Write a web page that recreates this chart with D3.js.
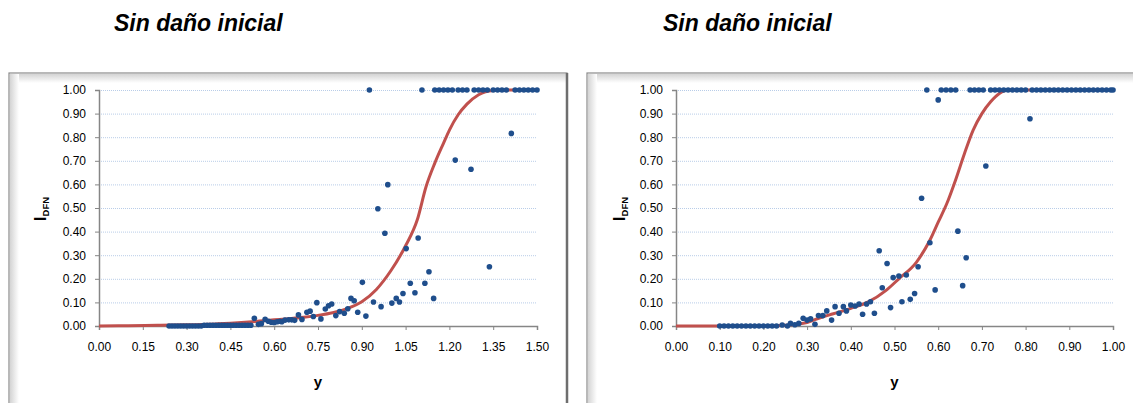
<!DOCTYPE html>
<html>
<head>
<meta charset="utf-8">
<script src="https://cdn.jsdelivr.net/npm/d3@7"></script>
<style>
  body { margin: 0; background: #fff; }
  svg { display: block; font-family: "Liberation Sans", Arial, sans-serif; }
  .grid line { stroke: #b9cde8; stroke-dasharray: 1,1; }
  .axis path, .axis line { stroke: #868686; }
  .axis text { fill: #000; font-size: 12px; }
</style>
</head>
<body>
<svg id="chart" width="1133" height="403"></svg>
<script>

var titleText = "Sin daño inicial";

// left panel: measured points
var leftX = [0.24,0.25,0.26,0.27,0.28,0.29,0.30,0.31,0.32,0.33,0.34,0.35,0.36,0.37,0.38,0.39,0.40,0.41,0.42,0.43,0.44,0.45,0.46,0.47,0.48,0.49,0.50,0.51,0.52,
  0.532,0.546,0.556,0.569,0.58,0.59,0.60,0.61,0.62,0.626,0.637,0.65,0.66,0.67,0.683,0.695,0.712,0.723,0.734,0.746,0.760,0.775,0.786,0.797,0.811,0.824,0.840,
  0.852,0.863,0.874,0.886,0.902,0.914,0.926,0.940,0.955,0.966,0.979,0.989,1.003,1.018,1.029,1.041,1.052,1.066,1.082,1.093,1.106,1.116,1.130,1.146,
  1.15,1.165,1.18,1.195,1.21,1.22,1.23,1.245,1.26,1.274,1.285,1.30,1.315,1.33,1.337,1.35,1.365,1.38,1.395,1.412,1.425,1.44,1.455,1.47,1.485,1.50];
var leftY = [0,0,0,0,0,0,0,0,0,0,0,0,0.003,0.003,0.003,0.003,0.003,0.003,0.003,0.003,0.003,0.003,0.003,0.003,0.003,0.003,0.003,0.003,0.003,
  0.033,0.007,0.010,0.028,0.020,0.016,0.015,0.018,0.020,0.018,0.025,0.026,0.026,0.024,0.047,0.028,0.058,0.063,0.040,0.099,0.030,0.072,0.086,0.093,0.044,0.061,0.054,
  0.073,0.117,0.107,0.058,0.185,0.042,1.0,0.102,0.497,0.082,0.393,0.599,0.097,0.117,0.102,0.138,0.328,0.181,0.141,0.373,1.0,0.181,0.230,0.117,
  1,1,1,1,1,0.703,1,1,1,0.664,1,1,1,1,0.251,1,1,1,1,0.816,1,1,1,1,1,1];

// left panel: fitted curve
var leftCurveX = [0,0.1,0.2,0.3,0.4,0.45,0.5,0.55,0.6,0.65,0.7,0.75,0.8,0.85,0.9,0.95,1.0,1.05,1.09,1.12,1.15,1.18,1.2,1.23,1.26,1.3,1.35,1.4,1.5];
var leftCurveY = [0,0.001,0.003,0.005,0.009,0.012,0.016,0.021,0.026,0.031,0.037,0.045,0.056,0.074,0.103,0.155,0.235,0.34,0.45,0.59,0.69,0.775,0.83,0.895,0.94,0.98,0.998,1.0,1.0];

// right panel: measured points
var rightX = [0.10,0.11,0.12,0.13,0.14,0.15,0.16,0.17,0.18,0.19,0.20,0.21,0.22,0.23,0.243,0.255,0.262,0.272,0.281,0.291,0.300,0.308,0.318,0.326,0.336,
  0.345,0.356,0.364,0.373,0.383,0.39,0.40,0.41,0.419,0.427,0.436,0.445,0.454,0.465,0.472,0.483,0.491,0.497,0.510,0.517,0.527,0.536,0.546,0.554,
  0.562,0.574,0.581,0.593,0.600,0.607,0.618,0.629,0.64,0.645,0.656,0.664,0.673,0.683,0.693,0.703,0.709,0.72,0.73,0.74,0.75,0.76,0.77,0.78,0.79,0.80,
  0.81,0.815,0.825,0.835,0.845,0.855,0.865,0.875,0.885,0.895,0.905,0.915,0.925,0.935,0.945,0.955,0.965,0.975,0.985,0.995,1.0];
var rightY = [0,0,0,0,0,0,0,0,0,0,0,0,0,0,0.004,0,0.011,0.005,0.011,0.033,0.025,0.030,0.007,0.044,0.044,
  0.064,0.025,0.082,0.054,0.082,0.064,0.089,0.085,0.093,0.050,0.093,0.103,0.054,0.319,0.162,0.265,0.078,0.205,0.212,0.103,0.216,0.113,0.138,0.251,
  0.541,1.0,0.353,0.153,0.958,1,1,1,1,0.402,0.171,0.289,1,1,1,1,0.678,1,1,1,1,1,1,1,1,1,
  0.878,1,1,1,1,1,1,1,1,1,1,1,1,1,1,1,1,1,1,1,1];

// right panel: fitted curve
var rightCurveX = [0,0.1,0.2,0.25,0.28,0.3,0.33,0.36,0.4,0.44,0.48,0.51,0.55,0.58,0.6,0.62,0.64,0.66,0.68,0.7,0.72,0.74,0.76,1.0];
var rightCurveY = [0,0,0.001,0.003,0.008,0.015,0.035,0.052,0.075,0.102,0.15,0.2,0.27,0.36,0.44,0.52,0.62,0.73,0.83,0.9,0.95,0.985,1.0,1.0];

var yTicks = [0,0.1,0.2,0.3,0.4,0.5,0.6,0.7,0.8,0.9,1.0];
var leftXTicks = [0,0.15,0.30,0.45,0.60,0.75,0.90,1.05,1.20,1.35,1.50];
var rightXTicks = [0,0.1,0.2,0.3,0.4,0.5,0.6,0.7,0.8,0.9,1.0];

var svg = d3.select("#chart");
var defs = svg.append("defs");

var gradTop = defs.append("linearGradient").attr("id", "shTop")
    .attr("x1", 0).attr("y1", 0).attr("x2", 0).attr("y2", 1);
gradTop.append("stop").attr("offset", 0).attr("stop-color", "#d4d4d4");
gradTop.append("stop").attr("offset", 1).attr("stop-color", "#ffffff");
var gradLeft = defs.append("linearGradient").attr("id", "shLeft")
    .attr("x1", 0).attr("y1", 0).attr("x2", 1).attr("y2", 0);
gradLeft.append("stop").attr("offset", 0).attr("stop-color", "#d4d4d4");
gradLeft.append("stop").attr("offset", 1).attr("stop-color", "#ffffff");

function drawPanel(cfg) {
    // frame
    var f = svg.append("g");
    f.append("rect").attr("x", cfg.fx).attr("y", 73).attr("width", 558).attr("height", 360)
        .attr("fill", "#fff").attr("stroke", "#8a8a8a").attr("stroke-width", 1.2);
    f.append("rect").attr("x", cfg.fx + 1).attr("y", 74).attr("width", 556).attr("height", 9)
        .attr("fill", "url(#shTop)");
    f.append("rect").attr("x", cfg.fx + 1).attr("y", 74).attr("width", 9).attr("height", 360)
        .attr("fill", "url(#shLeft)");
    f.append("line").attr("x1", cfg.fx + 558).attr("x2", cfg.fx + 558).attr("y1", 73).attr("y2", 403)
        .attr("stroke", "#6e6e6e").attr("stroke-width", 2.5);

    // title
    svg.append("text").attr("x", cfg.tx).attr("y", 31)
        .style("font-size", "23px").style("font-weight", "bold").style("font-style", "italic")
        .text(titleText);

    var x = d3.scaleLinear().domain([0, cfg.xmax]).range([cfg.left, cfg.right]);
    var y = d3.scaleLinear().domain([0, 1]).range([326, 90]);

    var g = svg.append("g");

    g.append("g").attr("class", "grid")
      .selectAll("line").data(yTicks.slice(1)).enter().append("line")
        .attr("x1", cfg.left).attr("x2", cfg.right)
        .attr("y1", function (d) { return y(d) + 0.5; })
        .attr("y2", function (d) { return y(d) + 0.5; });

    g.append("g").attr("class", "axis")
        .attr("transform", "translate(" + cfg.left + ",0)")
        .call(d3.axisLeft(y).tickValues(yTicks).tickSize(4).tickPadding(9).tickFormat(d3.format(".2f")));

    g.append("g").attr("class", "axis")
        .attr("transform", "translate(0,326)")
        .call(d3.axisBottom(x).tickValues(cfg.xTicks).tickSize(4).tickPadding(12).tickFormat(d3.format(".2f")));

    g.selectAll(".axis .domain").attr("stroke-width", 1.5);

    g.append("path")
        .datum(d3.range(cfg.cx.length))
        .attr("fill", "none").attr("stroke", "#c0504d").attr("stroke-width", 3)
        .attr("d", d3.line()
            .x(function (i) { return x(cfg.cx[i]); })
            .y(function (i) { return y(cfg.cy[i]); })
            .curve(d3.curveMonotoneX));

    g.append("g").selectAll("circle").data(d3.range(cfg.px.length)).enter().append("circle")
        .attr("cx", function (i) { return x(cfg.px[i]); })
        .attr("cy", function (i) { return y(cfg.py[i]); })
        .attr("r", 2.8)
        .attr("fill", "#1f4e8c");

    // axis titles
    var yl = svg.append("text")
        .attr("transform", "translate(" + cfg.ylx + ",209) rotate(-90)")
        .attr("text-anchor", "middle")
        .style("font-weight", "bold");
    yl.append("tspan").style("font-size", "17px").text("I");
    yl.append("tspan").style("font-size", "9.5px").attr("dy", 3).text("DFN");

    svg.append("text")
        .attr("x", (cfg.left + cfg.right) / 2).attr("y", 387)
        .attr("text-anchor", "middle")
        .style("font-size", "15px").style("font-weight", "bold")
        .text("y");
}

drawPanel({ fx: 9, tx: 114, left: 99, right: 537, xmax: 1.5, xTicks: leftXTicks, ylx: 46,
    px: leftX, py: leftY, cx: leftCurveX, cy: leftCurveY });
drawPanel({ fx: 587, tx: 663, left: 676, right: 1113, xmax: 1.0, xTicks: rightXTicks, ylx: 625,
    px: rightX, py: rightY, cx: rightCurveX, cy: rightCurveY });

</script>
</body>
</html>
